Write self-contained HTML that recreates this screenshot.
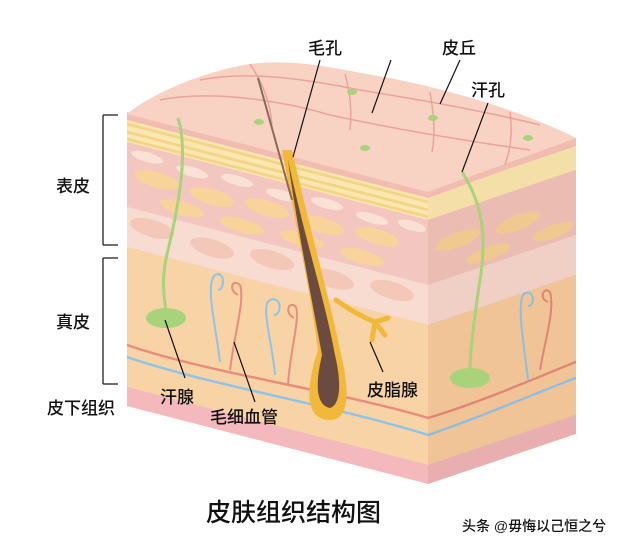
<!DOCTYPE html>
<html><head><meta charset="utf-8"><style>
html,body{margin:0;padding:0;background:#fff;}
svg{display:block;}
text{font-family:"Liberation Sans","Noto Sans CJK SC",sans-serif;fill:#111;font-weight:500;}
</style></head><body>
<svg width="640" height="548" viewBox="0 0 640 548">
<!-- front face -->
<g transform="translate(127,112) skewY(14.5)">
<rect x="0" y="0" width="301" height="294" fill="#f4c9b6"/>
<rect x="0" y="6" width="301" height="24" fill="#fbe8b0"/>
<g stroke="#f5d48a" stroke-width="3"><line x1="0" y1="12" x2="301" y2="12"/><line x1="0" y1="20" x2="301" y2="20"/><line x1="0" y1="27" x2="301" y2="27"/></g>
<rect x="0" y="30" width="301" height="65" fill="#f3c7c0"/>
<g fill="#f9e1d6"><ellipse cx="20" cy="40" rx="16" ry="5"/><ellipse cx="65" cy="43" rx="16" ry="5"/><ellipse cx="110" cy="40" rx="16" ry="5"/><ellipse cx="155" cy="43" rx="16" ry="5"/><ellipse cx="200" cy="40" rx="16" ry="5"/><ellipse cx="245" cy="43" rx="16" ry="5"/><ellipse cx="285" cy="40" rx="14" ry="5"/></g>
<g fill="#f8d49a"><ellipse cx="30" cy="60" rx="22" ry="8"/><ellipse cx="85" cy="63" rx="22" ry="8"/><ellipse cx="140" cy="60" rx="22" ry="8"/><ellipse cx="195" cy="63" rx="22" ry="8"/><ellipse cx="250" cy="60" rx="22" ry="8"/><ellipse cx="55" cy="82" rx="22" ry="7"/><ellipse cx="115" cy="84" rx="22" ry="7"/><ellipse cx="175" cy="82" rx="22" ry="7"/><ellipse cx="235" cy="84" rx="22" ry="7"/></g>
<rect x="0" y="95" width="301" height="40" fill="#f8dcd2"/>
<g fill="#f4c8b8"><ellipse cx="25" cy="110" rx="22" ry="9"/><ellipse cx="85" cy="114" rx="22" ry="9"/><ellipse cx="145" cy="110" rx="22" ry="9"/><ellipse cx="205" cy="114" rx="22" ry="9"/><ellipse cx="265" cy="110" rx="22" ry="9"/></g>
<rect x="0" y="135" width="301" height="140" fill="#f8d3a6"/>
<path d="M0,233 C80,240 200,225 301,228" stroke="#ea8c7c" stroke-width="2.5" fill="none"/>
<path d="M0,245 C80,252 200,240 301,245" stroke="#8fc3e8" stroke-width="2.5" fill="none"/>
<rect x="0" y="275" width="301" height="19" fill="#f3b9bd"/>
</g>
<!-- right face -->
<g transform="translate(428,190) skewY(-18.7)">
<rect x="0" y="0" width="148" height="294" fill="#e7bca6"/>
<rect x="0" y="6" width="148" height="24" fill="#f5dfa8"/>
<rect x="0" y="30" width="148" height="65" fill="#ebbcb2"/>
<g fill="#f0c990"><ellipse cx="30" cy="60" rx="22" ry="8"/><ellipse cx="90" cy="63" rx="22" ry="8"/><ellipse cx="60" cy="84" rx="22" ry="7"/><ellipse cx="125" cy="84" rx="20" ry="7"/></g>
<rect x="0" y="95" width="148" height="40" fill="#f0d0c4"/>
<rect x="0" y="135" width="148" height="140" fill="#f0c497"/>
<path d="M0,228 C50,230 100,225 148,222" stroke="#e08474" stroke-width="2.5" fill="none"/>
<path d="M0,245 C50,245 100,240 148,238" stroke="#8fbde0" stroke-width="2.5" fill="none"/>
<rect x="0" y="275" width="148" height="19" fill="#e9aeb0"/>
</g>
<!-- top surface -->
<path d="M127,114 C150,95 200,72 250,64 C300,58 340,70 390,78 C450,90 520,110 576,138 L428,192 L127,114 Z" fill="#f8d3c4"/>
<path d="M127,114 L428,192 L576,138 L576,144 L428,198 L127,120 Z" fill="#f2bdb0"/>
<g stroke="#eaa39c" stroke-width="1.5" fill="none">
<path d="M160,100 C210,90 280,100 330,115 C390,128 460,140 530,150"/>
<path d="M200,80 C250,70 310,80 360,90 C420,100 480,110 540,125"/>
<path d="M250,64 C262,82 270,100 272,125"/>
<path d="M345,74 C350,92 352,108 350,130"/>
<path d="M430,92 C433,110 436,130 432,152"/>
<path d="M510,112 C512,128 512,145 505,165"/>
</g>
<g fill="#a8d37a"><ellipse cx="352" cy="92" rx="5" ry="3"/><ellipse cx="433" cy="118" rx="5" ry="3"/><ellipse cx="259" cy="122" rx="5" ry="3"/><ellipse cx="365" cy="148" rx="5" ry="3"/><ellipse cx="528" cy="138" rx="5" ry="3"/></g>
<!-- capillaries -->
<g fill="none" stroke-width="2">
<path d="M220,362 C215,320 205,285 215,275 C225,270 225,290 218,290" stroke="#8fc3e8"/>
<path d="M230,370 C235,330 245,300 240,285 C232,278 228,290 238,295" stroke="#ea8c7c"/>
<path d="M275,375 C272,340 260,305 270,300 C282,295 282,315 274,315" stroke="#8fc3e8"/>
<path d="M288,385 C290,350 300,320 296,307 C290,300 283,312 294,318" stroke="#ea8c7c"/>
<path d="M528,380 C525,350 515,300 525,293 C535,290 535,306 528,306" stroke="#8fbde0"/>
<path d="M540,370 C545,340 555,310 550,292 C544,286 538,298 548,302" stroke="#e08474"/>
</g>
<!-- sweat glands -->
<path d="M178,118 C188,150 180,200 168,250 C158,290 168,305 165,315" stroke="#a8d37a" stroke-width="3" fill="none"/>
<ellipse cx="166" cy="318" rx="20" ry="10" fill="#a8d37a"/>
<path d="M462,172 C480,200 488,230 480,280 C474,320 470,355 470,370" stroke="#a8d37a" stroke-width="3" fill="none"/>
<ellipse cx="470" cy="378" rx="20" ry="10" fill="#a8d37a"/>
<!-- hair -->
<path d="M282,150 L292,150 C310,230 330,300 340,350 C350,390 350,420 330,420 C305,420 305,390 318,350 C310,290 295,220 282,150 Z" fill="#f2b83a"/>
<path d="M288,160 C305,240 325,300 335,355 C342,385 340,405 330,408 C316,405 315,385 322,355 C310,290 296,220 288,160 Z" fill="#6b4a3f"/>
<path d="M258,78 L292,200" stroke="#8a6a5a" stroke-width="2"/>
<path d="M336,300 C350,310 365,318 375,322 M375,322 L388,318 M375,322 L385,335 M375,322 L372,340" stroke="#f2b83a" stroke-width="5" fill="none" stroke-linecap="round"/>
<!-- leader lines -->
<g stroke="#111" stroke-width="1.2">
<line x1="320" y1="60" x2="293" y2="157"/>
<line x1="391" y1="60" x2="372" y2="113"/>
<line x1="460" y1="60" x2="440" y2="104"/>
<line x1="488" y1="103" x2="462" y2="172"/>
<line x1="165" y1="320" x2="185" y2="378"/>
<line x1="234" y1="342" x2="255" y2="402"/>
<line x1="370" y1="342" x2="383" y2="372"/>
<line x1="103" y1="115" x2="103" y2="245"/><line x1="103" y1="115" x2="118" y2="115"/><line x1="103" y1="245" x2="118" y2="245"/>
<line x1="103" y1="258" x2="103" y2="384"/><line x1="103" y1="258" x2="118" y2="258"/><line x1="103" y1="384" x2="118" y2="384"/>
</g>
<g font-size="17">
<text x="308" y="54">毛孔</text>
<text x="442" y="54">皮丘</text>
<text x="471" y="96">汗孔</text>
<text x="56" y="192">表皮</text>
<text x="56" y="328">真皮</text>
<text x="47" y="414">皮下组织</text>
<text x="160" y="403">汗腺</text>
<text x="210" y="423">毛细血管</text>
<text x="367" y="396">皮脂腺</text>
</g>
<text x="206" y="521" font-size="25">皮肤组织结构图</text>
<text x="462" y="531" font-size="14" fill="#333">头条 @毋悔以己恒之兮</text>
</svg>
</body></html>
